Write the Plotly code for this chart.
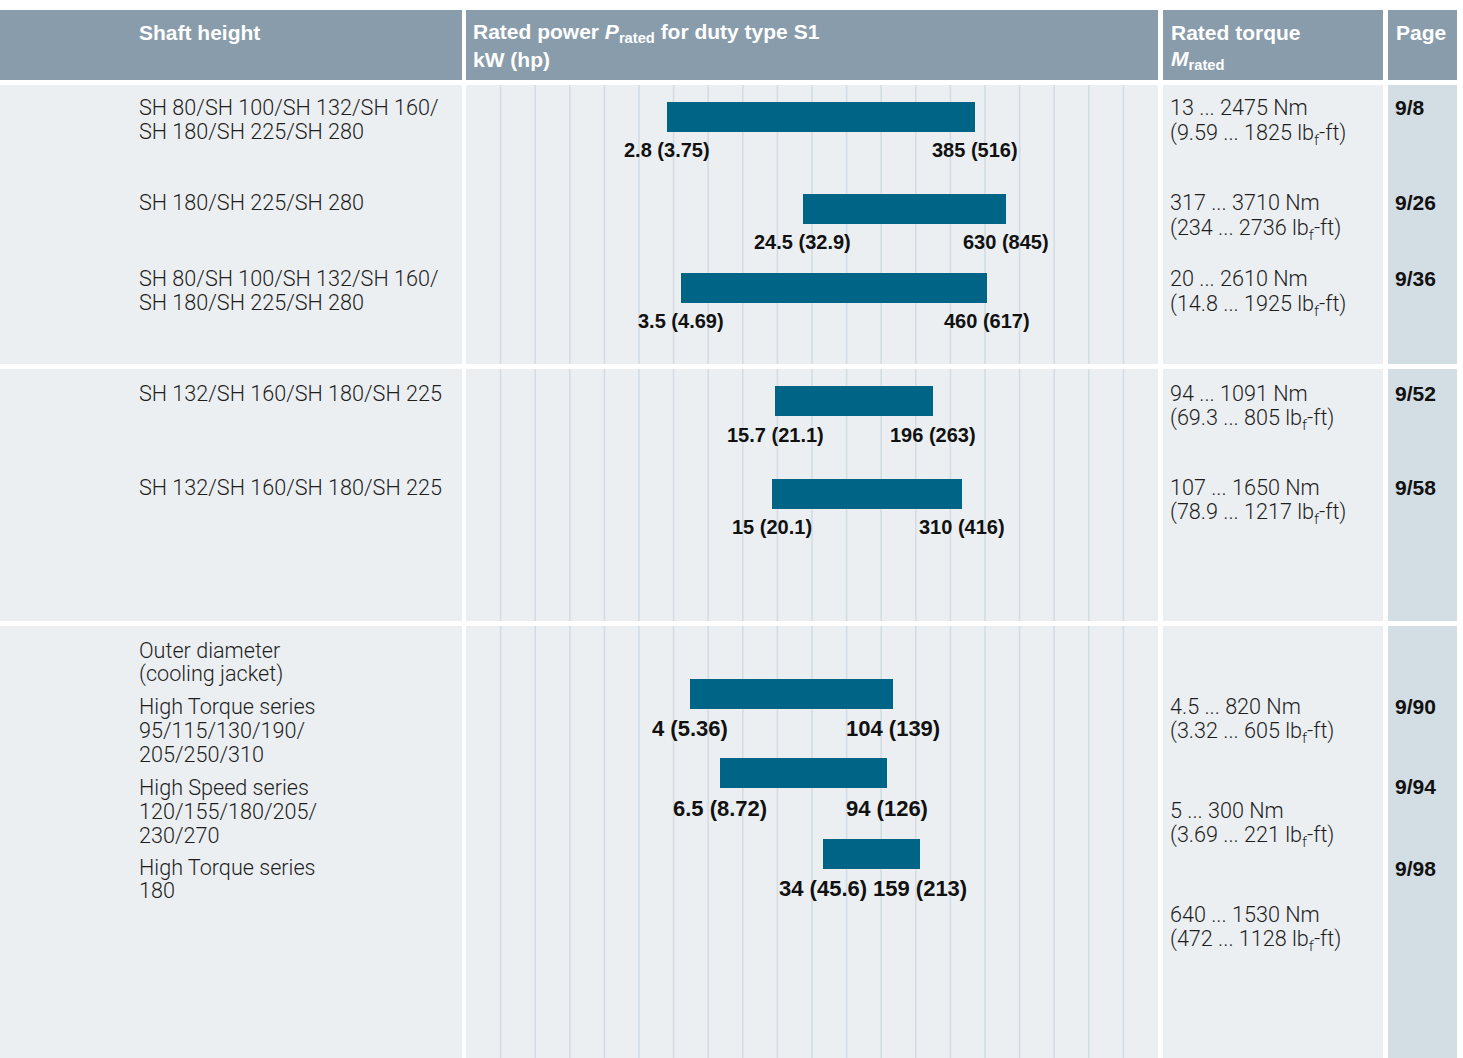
import math
import plotly.graph_objects as go

W, H = 1463, 1058

# ---------------- data ----------------
p_min_kw = [2.8, 24.5, 3.5, 15.7, 15, 4, 6.5, 34]
p_max_kw = [385, 630, 460, 196, 310, 104, 94, 159]
p_min_hp = ["3.75", "32.9", "4.69", "21.1", "20.1", "5.36", "8.72", "45.6"]
p_max_hp = ["516", "845", "617", "263", "416", "139", "126", "213"]

shaft_lines = ["SH 80/SH 100/SH 132/SH 160/", "SH 180/SH 225/SH 280",
               "SH 180/SH 225/SH 280",
               "SH 80/SH 100/SH 132/SH 160/", "SH 180/SH 225/SH 280",
               "SH 132/SH 160/SH 180/SH 225",
               "SH 132/SH 160/SH 180/SH 225",
               "Outer diameter", "(cooling jacket)",
               "High Torque series", "95/115/130/190/", "205/250/310",
               "High Speed series", "120/155/180/205/", "230/270",
               "High Torque series", "180"]

torque_nm = ["13 ... 2475 Nm", "317 ... 3710 Nm", "20 ... 2610 Nm",
             "94 ... 1091 Nm", "107 ... 1650 Nm",
             "4.5 ... 820 Nm", "5 ... 300 Nm", "640 ... 1530 Nm"]
torque_lbf = ["9.59 ... 1825", "234 ... 2736", "14.8 ... 1925",
              "69.3 ... 805", "78.9 ... 1217",
              "3.32 ... 605", "3.69 ... 221", "472 ... 1128"]

pages = ["9/8", "9/26", "9/36", "9/52", "9/58", "9/90", "9/94", "9/98"]

# ---------------- layout (pixel positions) ----------------
bar_y = [117, 209, 288, 401, 494, 694, 773, 854]
label_dy = [33, 33, 33, 34, 33, 34, 35, 34]
label_size = [20, 20, 20, 20, 20, 22, 22, 22]
shaft_y = [108, 132, 203, 279, 303, 393, 487, 650, 674, 706, 730, 754, 787, 811, 835, 867, 890]
torque_y = [108, 203, 279, 393, 487, 706, 810, 914]
page_y = [108, 203, 279, 393, 487, 706, 786, 868]

cols = [(0, 462), (466, 1158), (1163, 1383), (1388, 1457)]
header = (10, 80)
sections = [(85, 364), (369, 621), (626, 1058)]

HEAD_BG = "#899cab"
BODY_BG = "#ebeff2"
PAGE_BG = "#d3dde4"
GRID = "#d3dde3"
BAR = "#006487"
TXT = "#1e1e1e"

LIGHT = "Roboto, 'Liberation Sans', sans-serif"
BOLD = "'Liberation Sans', Arial, sans-serif"

# log-scale mapping of the power axis (px -> log10 value)
px_per_decade = 144.1
px_at_one = 602.8
xr = [(cols[1][0] - px_at_one) / px_per_decade, (cols[1][1] - px_at_one) / px_per_decade]


def px(x):
    return x / W


def py(y):
    return 1 - y / H


shapes = []
# backgrounds
for ci, (x0, x1) in enumerate(cols):
    shapes.append(dict(type="rect", xref="paper", yref="paper", x0=px(x0), x1=px(x1),
                       y0=py(header[1]), y1=py(header[0]), fillcolor=HEAD_BG,
                       line=dict(width=0), layer="below"))
    for (s0, s1) in sections:
        shapes.append(dict(type="rect", xref="paper", yref="paper", x0=px(x0), x1=px(x1),
                           y0=py(s1), y1=py(s0),
                           fillcolor=PAGE_BG if ci == 3 else BODY_BG,
                           line=dict(width=0), layer="below"))
# decorative vertical grid in the power column
gx0, gx1 = cols[1]
for (s0, s1) in sections:
    for k in range(1, 20):
        xx = gx0 + (gx1 - gx0) * k / 20
        shapes.append(dict(type="line", xref="paper", yref="paper", x0=px(xx), x1=px(xx),
                           y0=py(s1), y1=py(s0), line=dict(color=GRID, width=1.6),
                           layer="below"))

ann = []


def text(x, y, s, size=21.6, family=LIGHT, color=TXT, weight=300, xanchor="left", yanchor="middle"):
    ann.append(dict(xref="paper", yref="paper", x=px(x), y=py(y), text=s, showarrow=False,
                    xanchor=xanchor, yanchor=yanchor,
                    font=dict(family=family, size=size, color=color, weight=weight)))


# header texts
text(137, 33, "Shaft height", size=21, family=BOLD, color="white", weight="bold")
text(471, 33, "Rated power <i>P</i><sub>rated</sub> for duty type S1", size=21, family=BOLD,
     color="white", weight="bold")
text(471, 60, "kW (hp)", size=21, family=BOLD, color="white", weight="bold")
text(1169, 33, "Rated torque", size=21, family=BOLD, color="white", weight="bold")
text(1169, 60, "<i>M</i><sub>rated</sub>", size=21, family=BOLD, color="white", weight="bold")
text(1394, 33, "Page", size=21, family=BOLD, color="white", weight="bold")

for s, y in zip(shaft_lines, shaft_y):
    text(137, y, s)

for nm, lbf, y in zip(torque_nm, torque_lbf, torque_y):
    text(1168, y, nm)
    text(1168, y + 10, "(" + lbf + " lb<sub>f</sub>-ft)", yanchor="top")

for p, y in zip(pages, page_y):
    text(1393, y, p, size=21, family=BOLD, color="#111111", weight="bold")

# bar labels
for lo, hi, lh, hh, y, dy, fs in zip(p_min_kw, p_max_kw, p_min_hp, p_max_hp, bar_y, label_dy, label_size):
    for v, h in ((lo, lh), (hi, hh)):
        ann.append(dict(xref="x", yref="y", x=math.log10(v), y=y + dy,
                        text=f"{v:g} ({h})", showarrow=False, xanchor="center", yanchor="middle",
                        font=dict(family=BOLD, size=fs, color="#111111", weight="bold")))

fig = go.Figure()
fig.add_trace(go.Bar(
    orientation="h",
    y=bar_y,
    x=[hi - lo for lo, hi in zip(p_min_kw, p_max_kw)],
    base=p_min_kw,
    width=30,
    marker=dict(color=BAR, line=dict(width=0)),
    hoverinfo="skip",
    showlegend=False,
))

fig.update_layout(
    width=W, height=H, autosize=False,
    margin=dict(l=0, r=0, t=0, b=0),
    paper_bgcolor="white", plot_bgcolor="rgba(0,0,0,0)",
    xaxis=dict(type="log", range=xr, domain=[px(cols[1][0]), px(cols[1][1])],
               visible=False, showgrid=False, zeroline=False, fixedrange=True),
    yaxis=dict(range=[H, 0], domain=[0, 1], visible=False, showgrid=False,
               zeroline=False, fixedrange=True),
    shapes=shapes,
    annotations=ann,
    bargap=0,
)

fig.write_html("out.html", config={"displayModeBar": False},
               post_script="document.body.style.margin='0';document.body.style.padding='0';"
                           "document.body.style.overflow='hidden';")
